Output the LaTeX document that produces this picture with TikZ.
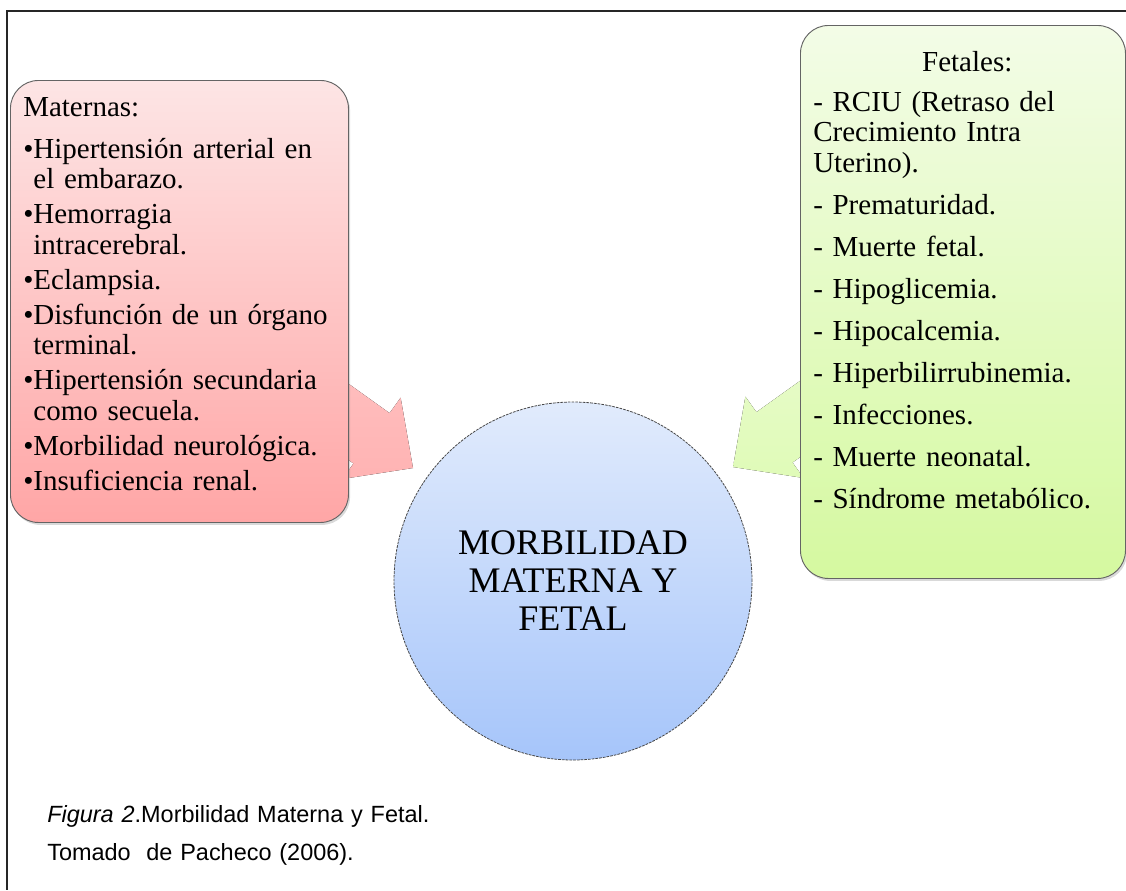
\documentclass[tikz,border=0pt]{standalone}
\usepackage{fontspec}
\setmainfont{Liberation Serif}
\newfontfamily\piefont{Liberation Sans}
\usetikzlibrary{positioning,arrows,shadows}

\definecolor{rosaA}{RGB}{253,229,229}
\definecolor{rosaB}{RGB}{255,166,166}
\definecolor{verdeA}{RGB}{243,252,231}
\definecolor{verdeB}{RGB}{213,249,160}
\definecolor{azulA}{RGB}{225,235,252}
\definecolor{azulB}{RGB}{166,197,250}
\definecolor{borde}{RGB}{100,100,100}

% vineta con sangria francesa
\newcommand{\vin}[1]{\par\noindent\setbox0\hbox{•}\hangindent\wd0 \hangafter1 \box0 #1}

\tikzset{
>=stealth',
caja/.style={rectangle, rounded corners=21pt, draw=borde, line width=0.7pt, drop shadow={shadow xshift=1.2pt, shadow yshift=-1.8pt, opacity=0.3}},
materna/.style={caja, top color=rosaA, bottom color=rosaB, anchor=north west, minimum width=253.5pt, minimum height=331.5pt},
fetal/.style={caja, top color=verdeA, bottom color=verdeB, anchor=north west, minimum width=243.75pt, minimum height=414.75pt},
centro/.style={circle, draw=borde!70!black, dash pattern=on 2pt off 0.8pt, line width=0.6pt, top color=azulA, bottom color=azulB, minimum size=268.5pt, inner sep=0pt, align=center, font=\fontsize{27}{28.5}\selectfont},
lista/.style={anchor=base west, inner sep=0pt, font=\fontsize{21.75}{22.9}\selectfont},
flechaM/.style={top color=rosaB!70!white, bottom color=rosaB!85!white},
flechaF/.style={top color=verdeB!55!white, bottom color=verdeB!75!white},
pie/.style={anchor=base west, inner sep=0pt, text width=420pt, font=\piefont\fontsize{17.6}{28.5}\selectfont},
marco/.style={draw=black!85, line width=1pt},
}

\begin{document}
\begin{tikzpicture}[x=0.75pt, y=-0.75pt]
\useasboundingbox (0,0) rectangle (1126,890);

\draw[marco] (1126,11) -- (7,11) -- (7,890);

% flechas hacia el centro
\coordinate (puntaM) at (413,468);
\coordinate (puntaF) at (733,467);
\begin{scope}[shift={(puntaM)}, rotate=-35.6]
\fill[flechaM] (0,0) -- (-51,-50) -- (-51,-31) -- (-170,-31) -- (-170,31) -- (-51,31) -- (-51,50) -- cycle;
\end{scope}
\begin{scope}[shift={(puntaF)}, rotate=-144.4]
\fill[flechaF] (0,0) -- (-51,-50) -- (-51,-31) -- (-170,-31) -- (-170,31) -- (-51,31) -- (-51,50) -- cycle;
\end{scope}

\node[centro] (morb) at (573,581) {MORBILIDAD\\MATERNA Y\\FETAL};

\node[materna] (maternas) at (10,80) {};
\node[lista, text width=240pt] (matlista) at (23,116) {\raggedright\parskip=3.4pt
Maternas:\par\vspace{5.2pt}
\vin{Hipertensión arterial en\newline el embarazo.}
\vin{Hemorragia\newline intracerebral.}
\vin{Eclampsia.}
\vin{Disfunción de un órgano\newline terminal.}
\vin{Hipertensión secundaria\newline como secuela.}
\vin{Morbilidad neurológica.}
\vin{Insuficiencia renal.}};

\node[fetal] (fetales) at (800,25) {};
\node[lista, text width=231pt] (fetlista) at (813,71) {\parskip=8.6pt
{\centering Fetales:\par}\vspace{-1.5pt}
{\raggedright - RCIU (Retraso del\newline Crecimiento Intra\newline Uterino).\par
- Prematuridad.\par
- Muerte fetal.\par
- Hipoglicemia.\par
- Hipocalcemia.\par
- Hiperbilirrubinemia.\par
- Infecciones.\par
- Muerte neonatal.\par
- Síndrome metabólico.\par}};

\node[pie] (figura) at (47,822) {\textit{Figura 2}.Morbilidad Materna y Fetal.\newline Tomado\ \ de Pacheco (2006).};

\end{tikzpicture}
\end{document}
